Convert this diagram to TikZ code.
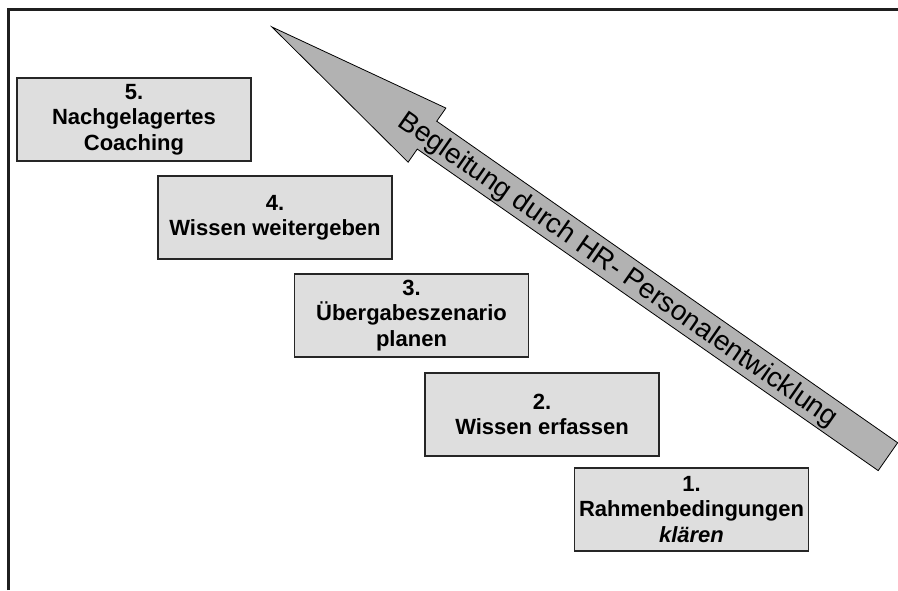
\documentclass[tikz,border=0pt]{standalone}
\usepackage{fontspec}
\setmainfont{Liberation Sans}
\begin{document}
\begin{tikzpicture}[x=1pt,y=-1pt,
  stagebox/.style={draw=black!85, line width=1.2pt, fill=black!13,
    minimum width=234pt, minimum height=83pt, inner sep=0pt, align=center,
    font=\fontsize{22}{25.3}\selectfont\bfseries},
  bigarrow/.style={draw=black, line width=0.8pt, fill=black!30, line join=miter},
  frameline/.style={draw=black!88, line width=2.2pt}]
\useasboundingbox (0,0) rectangle (898,590);

% open frame: top and left edges
\draw[frameline] (8.5,590) -- (8.5,9.5) -- (898,9.5);

% the five stages, stepping down to the right
\node[stagebox] (s5) at (134,119.5) {5.\\Nachgelagertes\\Coaching};
\node[stagebox] (s4) at (275,217.5) {4.\\Wissen weitergeben};
\node[stagebox] (s3) at (411.5,315.5) {3.\\Übergabeszenario\\planen};
\node[stagebox] (s2) at (542,414.5) {2.\\Wissen erfassen};
\node[stagebox] (s1) at (691.5,509.5) {1.\\Rahmenbedingungen\\\textit{klären}};

% diagonal block arrow pointing up-left, with its label
\begin{scope}[shift={(272,27)}, rotate=-34.9]
  \path[bigarrow] (0,0) -- (189,-33) -- (189,-17) -- (751,-17)
    -- (751,17) -- (189,17) -- (189,33) -- cycle;
  \node[transform shape, inner sep=0pt, font=\fontsize{27.8}{30}\selectfont]
    (hr) at (423,2) {Begleitung durch HR- Personalentwicklung};
\end{scope}
\end{tikzpicture}
\end{document}
